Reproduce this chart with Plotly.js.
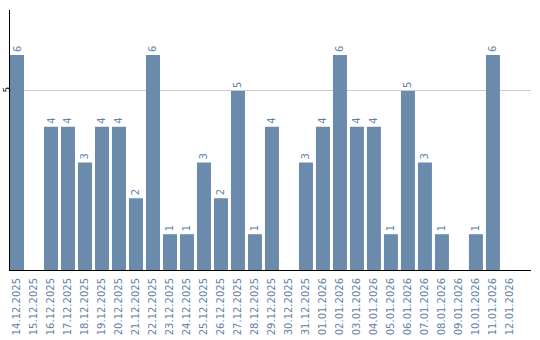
<!DOCTYPE html>
<html><head><meta charset="utf-8">
<script src="https://cdn.plot.ly/plotly-3.0.1.min.js"></script>
<style>html,body{margin:0;padding:0;background:#fff}#c{width:540px;height:340px}</style>
</head><body><div id="c"></div>
<script>
const dates = ["14.12.2025","15.12.2025","16.12.2025","17.12.2025","18.12.2025","19.12.2025","20.12.2025","21.12.2025","22.12.2025","23.12.2025","24.12.2025","25.12.2025","26.12.2025","27.12.2025","28.12.2025","29.12.2025","30.12.2025","31.12.2025","01.01.2026","02.01.2026","03.01.2026","04.01.2026","05.01.2026","06.01.2026","07.01.2026","08.01.2026","09.01.2026","10.01.2026","11.01.2026","12.01.2026"];
const counts = [6,0,4,4,3,4,4,2,6,1,1,3,2,5,1,4,0,3,4,6,4,4,1,5,3,1,0,1,6,0];
const yTicks = [5];

const labels = counts.map(v => v > 0 ? String(v) : "");
const blue = "#6a8bab";
const txt = "#5f82a6";

Plotly.newPlot("c", [{
  type: "bar",
  x: dates,
  y: counts,
  text: labels,
  textposition: "outside",
  textangle: -90,
  cliponaxis: false,
  textfont: {family: "DejaVu Sans", size: 10, color: txt},
  marker: {color: blue},
  hoverinfo: "none"
}], {
  width: 540, height: 340,
  margin: {l: 10, r: 9, t: 10, b: 70, pad: 0},
  paper_bgcolor: "#fff", plot_bgcolor: "#fff",
  bargap: 3/17,
  showlegend: false,
  font: {family: "DejaVu Sans", size: 10, color: txt},
  xaxis: {
    type: "category",
    range: [-0.412, 30.24],
    tickangle: -90,
    tickfont: {family: "DejaVu Sans", size: 10, color: txt},
    ticklabelstandoff: 3,
    showline: true, linecolor: "#000", linewidth: 1,
    ticks: "", showgrid: false, zeroline: false,
    automargin: false
  },
  yaxis: {
    range: [0, 7.26],
    tickvals: yTicks,
    ticktext: yTicks.map(String),
    tickangle: -90,
    tickfont: {family: "DejaVu Sans", size: 9, color: "#000"},
    ticklabelstandoff: -5,
    showline: true, linecolor: "#000", linewidth: 1,
    showgrid: true, gridcolor: "#cccccc", gridwidth: 1,
    zeroline: false, ticks: "",
    automargin: false
  }
}, {staticPlot: true, displayModeBar: false});
</script>
</body></html>
